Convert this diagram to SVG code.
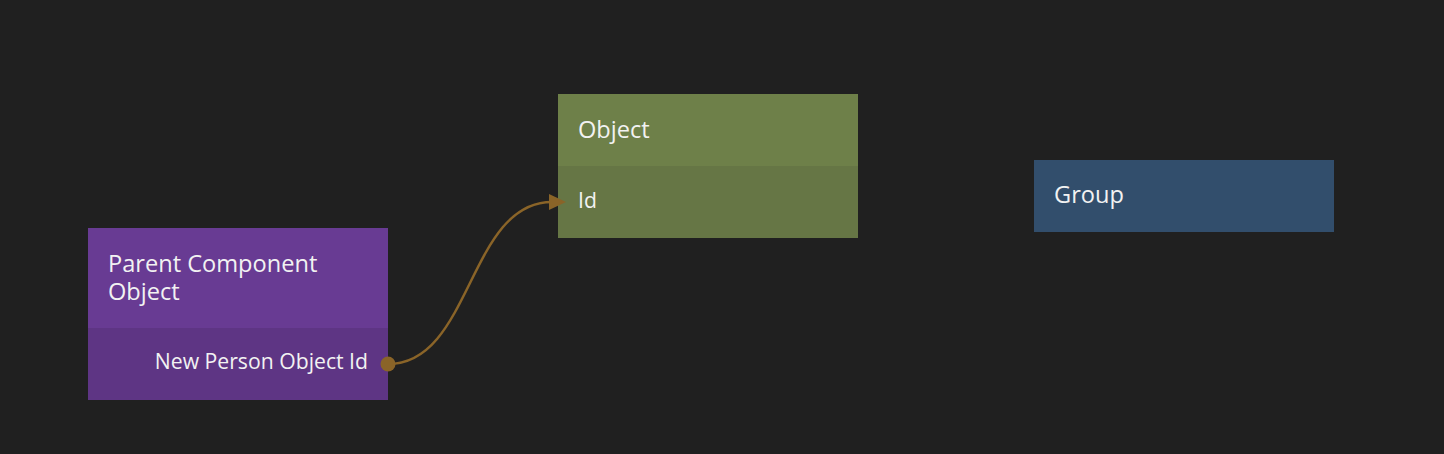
<svg xmlns="http://www.w3.org/2000/svg" width="1444" height="454" viewBox="0 0 1444 454">
<defs>
<style>
text{font-family:"Open Sans","Noto Sans","Liberation Sans",sans-serif;fill:#f2f2f2}
.title{font-size:23.6px}
.port{font-size:21.2px}
.conn{fill:none;stroke:#8a6428;stroke-width:2.5}
.cfill{fill:#8a6428}
</style>
</defs>
<rect width="1444" height="454" fill="#202020"/>
<g id="node-parent">
<rect x="88" y="228" width="300" height="100" fill="#683b93"/>
<rect x="88" y="328" width="300" height="72" fill="#5e3584"/>
<text class="title" x="108" y="272">Parent Component<tspan x="108" dy="28">Object</tspan></text>
<text class="port" x="368" y="369" text-anchor="end">New Person Object Id</text>
</g>
<g id="node-object">
<rect x="558" y="94" width="300" height="72" fill="#6e8049"/>
<rect x="558" y="166" width="300" height="72" fill="#667645"/>
<text class="title" x="578" y="138">Object</text>
<text class="port" x="578" y="208">Id</text>
</g>
<g id="node-group">
<rect x="1034" y="160" width="300" height="72" fill="#324e6c"/>
<text class="title" x="1054" y="203">Group</text>
</g>
<g id="connectors">
<path class="conn" d="M388,364 C472,364 468,202 552,202"/>
<polygon class="cfill" points="549,194 566,202 549,210"/>
<circle class="cfill" cx="388" cy="364" r="7.5"/>
</g>
</svg>
